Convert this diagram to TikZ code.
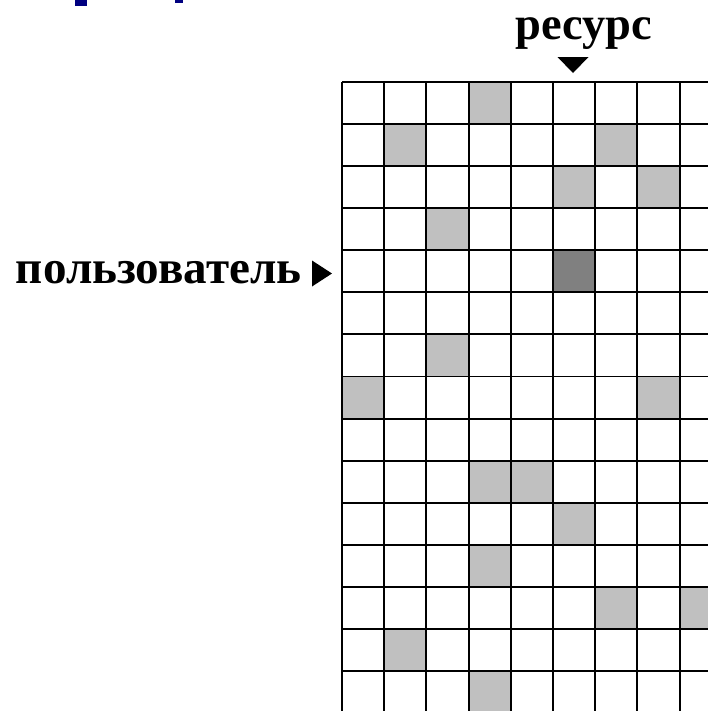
\documentclass[tikz,border=0pt]{standalone}
\usepackage{fontspec}
\setmainfont{Liberation Serif}
\usetikzlibrary{positioning}
\definecolor{cellgray}{HTML}{C0C0C0}
\definecolor{celldark}{HTML}{808080}
\definecolor{titleblue}{HTML}{000080}

\begin{document}
\begin{tikzpicture}[x=0.0265cm, y=-0.0265cm, line width=1.5pt,
    label/.style={font=\bfseries\fontsize{#1}{#1}\selectfont, inner sep=0pt},
    cell/.style={fill=cellgray}]
    \useasboundingbox (0,0) rectangle (708,711);

    % Remnants of the cut-off title
    \fill[titleblue] (75,0) rectangle (87,6);
    \fill[titleblue] (175,0) rectangle (183,3);

    % Shaded cells (column/row)
    \foreach \c/\r in {3/0,1/1,6/1,5/2,7/2,2/3,2/6,0/7,7/7,3/9,4/9,5/10,3/11,6/12,8/12,1/13,3/14}
        \fill[cell] (342+42.2*\c,82+42.07*\r) rectangle ++(42.2,42.07);
    \fill[celldark] (342+42.2*5,82+42.07*4) rectangle ++(42.2,42.07);

    % Grid
    \foreach \c in {0,...,8}
        \draw (342+42.2*\c,82) -- (342+42.2*\c,711);
    \foreach \r in {0,...,14}
        \draw (342,82+42.07*\r) -- (708,82+42.07*\r);

    % Labels
    \node[label=35pt, anchor=base] (res) at (583.5,39) {ресурс};
    \node[label=35.5pt, anchor=base west] (user) at (15,283) {пользователь};

    % Markers
    \coordinate (resarrow) at (573,73);
    \coordinate (userarrow) at (332,273.5);
    \fill (resarrow) -- ++(-15.5,-16) -- ++(31,0) -- cycle;
    \fill (userarrow) -- ++(-20,-13) -- ++(0,26) -- cycle;
\end{tikzpicture}
\end{document}
